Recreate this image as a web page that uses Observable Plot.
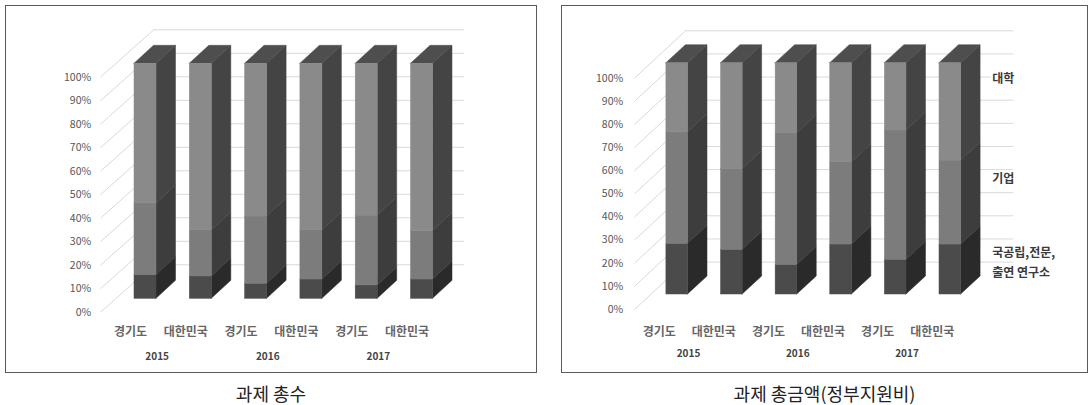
<!DOCTYPE html>
<html><head><meta charset="utf-8">
<script src="https://cdn.jsdelivr.net/npm/d3@7"></script>
<script src="https://cdn.jsdelivr.net/npm/@observablehq/plot@0.6"></script>
<style>
body{margin:0;background:#fff;width:1091px;height:405px;position:relative;overflow:hidden;font-family:"Noto Sans CJK KR","Noto Sans",sans-serif;}
.panel{position:absolute;box-sizing:border-box;border:1px solid #5a5a5a;background:#fff;}
.panel svg{position:absolute;left:0;top:0;}
.caption{position:absolute;text-align:center;font-size:18px;color:#222;line-height:24px;}
</style></head><body>
<div id="p1" class="panel" style="left:5px;top:5px;width:532px;height:368px"></div>
<div class="caption" style="left:5px;top:381px;width:532px">과제 총수</div>
<div id="p2" class="panel" style="left:561px;top:5px;width:527px;height:368px"></div>
<div class="caption" style="left:561px;top:381px;width:527px">과제 총금액(정부지원비)</div>
<script>
// ---- data ----
const years = ["2015", "2016", "2017"];
const regions = ["경기도", "대한민국"];
const seriesNames = ["국공립,전문,\n출연 연구소", "기업", "대학"];
const yTicks = [0, 10, 20, 30, 40, 50, 60, 70, 80, 90, 100];

// 과제 총수 (share, %), bars: 2015 경기도, 2015 대한민국, 2016 경기도, ...
const countInstitute = [10.1, 9.5, 6.4, 8.2, 5.7, 8.2];
const countCompany = [30.5, 19.6, 28.6, 20.9, 29.7, 20.6];
const countUniversity = [59.4, 70.9, 65.0, 70.9, 64.6, 71.2];

// 과제 총금액(정부지원비) (share, %)
const fundInstitute = [21.9, 19.3, 12.8, 21.6, 15.0, 21.6];
const fundCompany = [48.3, 35.0, 56.9, 35.6, 55.9, 36.3];
const fundUniversity = [29.8, 45.7, 30.3, 42.8, 29.1, 42.1];

// ---- styles ----
const frontColors = ["#4b4b4b", "#7c7c7c", "#8a8a8a"];
const sideColors = ["#2a2a2a", "#3d3d3d", "#444444"];
const topColor = "#4e4e4e";
const gridColor = "#d9d9d9";

function chart(values, L) {
  const kx = (L.x5 - L.x0) / 5, ky = (L.y0 - L.y100) / 100;
  const ux = px => (px - L.x0) / kx, uy = py => (L.y0 - py) / ky;
  const hw = L.halfW / kx, dX = L.depthX / kx, dY = L.depthY / ky;
  const bars = years.flatMap(y => regions.map(r => ({year: y, region: r})));
  const front = [], side = [], top = [];
  bars.forEach((b, i) => {
    const tot = d3.sum(values, arr => arr[i]);
    let acc = 0;
    values.forEach((arr, s) => {
      const v = arr[i] / tot * 100;
      const id = i + "-" + s;
      front.push({x1: i - hw, x2: i + hw, y1: acc, y2: acc + v, fill: frontColors[s]});
      side.push({id, x: i + hw, lo: acc, hi: acc + v, fill: sideColors[s]},
                {id, x: i + hw + dX, lo: acc + dY, hi: acc + v + dY, fill: sideColors[s]});
      acc += v;
    });
    const T = acc;
    top.push({id: i, x: i - hw, lo: T, hi: T, fill: topColor},
             {id: i, x: i - hw + dX, lo: T, hi: T + dY, fill: topColor},
             {id: i, x: i + hw, lo: T, hi: T + dY, fill: topColor},
             {id: i, x: i + hw + dX, lo: T + dY, hi: T + dY, fill: topColor});
  });
  const labelOff = L.labelDy / ky, backOff = -L.backDy / ky;
  const marks = [
    Plot.ruleY(yTicks, {y: d => d + backOff, x1: () => ux(L.wallBack), x2: () => ux(L.backRight), stroke: gridColor, strokeWidth: 1}),
    Plot.link(yTicks, {x1: () => ux(L.wallFront), x2: () => ux(L.wallBack), y1: d => d - labelOff, y2: d => d + backOff, stroke: gridColor, strokeWidth: 1}),
    Plot.text(yTicks, {x: () => ux(L.labelRight), y: d => d - labelOff, text: d => d + "%", textAnchor: "end", fontSize: 10.5, fill: "#555"}),
    Plot.areaY(side, {x: "x", y1: "lo", y2: "hi", z: "id", fill: "fill", stroke: "fill", strokeWidth: 0.5, curve: "linear"}),
    Plot.areaY(top, {x: "x", y1: "lo", y2: "hi", z: "id", fill: "fill", stroke: "fill", strokeWidth: 0.5, curve: "linear"}),
    Plot.rect(front, {x1: "x1", x2: "x2", y1: "y1", y2: "y2", fill: "fill", stroke: "fill", strokeWidth: 0.5}),
    Plot.text(bars, {x: (d, i) => i + L.catDx / kx, y: () => uy(L.catY), text: "region", fontSize: 12, fontWeight: "bold", fill: "#666"}),
    Plot.text(years, {x: (d, j) => 2 * j + 0.5 + L.yearDx / kx, y: () => uy(L.yearY), text: d => d, fontSize: 10, fontWeight: "bold", fill: "#444"})
  ];
  if (L.legendY) {
    const leg = seriesNames.map((name, s) => ({name, y: L.legendY[s]}));
    marks.push(Plot.text(leg, {x: () => ux(L.legendX), y: d => uy(d.y), text: "name", textAnchor: "start", lineHeight: 1.6, fontSize: 12, fontWeight: "bold", fill: "#3a3a3a", stroke: "white", strokeWidth: 4}));
  }
  return Plot.plot({
    width: L.width, height: L.height, margin: 0,
    x: {axis: null, domain: [0, 5], range: [L.x0, L.x5]},
    y: {axis: null, domain: [0, 100], range: [L.y0, L.y100]},
    color: {type: "identity"},
    style: {fontFamily: '"Noto Sans CJK KR", "Noto Sans", sans-serif', background: "transparent", overflow: "visible"},
    marks
  });
}

const leftLayout = {width: 530, height: 366, x0: 139, x5: 415.5, y0: 292.3, y100: 57.3, halfW: 11, depthX: 19.5, depthY: 18,
  labelRight: 84.7, labelDy: 13.4, wallFront: 94, wallBack: 147.3, backDy: -34, backRight: 458.3,
  catDx: -15, catY: 325.7, yearDx: -16, yearY: 350.7};
const rightLayout = {width: 525, height: 366, x0: 114.7, x5: 387.8, y0: 288, y100: 56.7, halfW: 10.8, depthX: 19.5, depthY: 18,
  labelRight: 60.7, labelDy: 15, wallFront: 72, wallBack: 123, backDy: -32.4, backRight: 451.3,
  catDx: -18, catY: 325.7, yearDx: -16, yearY: 347.3,
  legendX: 429.7, legendY: [254.4, 170.7, 70.7]};

document.getElementById("p1").append(chart([countInstitute, countCompany, countUniversity], leftLayout));
document.getElementById("p2").append(chart([fundInstitute, fundCompany, fundUniversity], rightLayout));
</script>
</body></html>
